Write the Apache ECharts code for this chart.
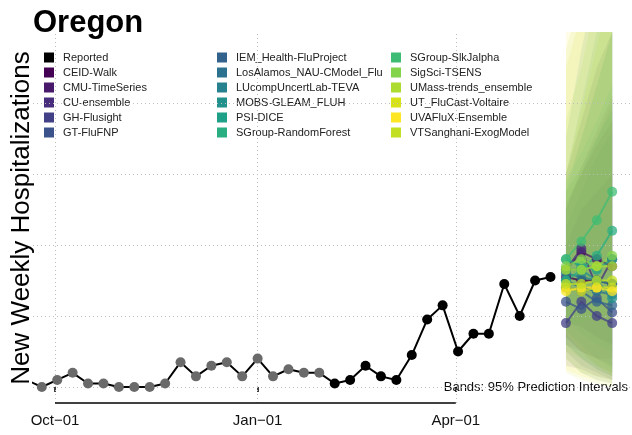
<!DOCTYPE html>
<html>
<head>
<meta charset="utf-8">
<script src="https://cdn.jsdelivr.net/npm/echarts@6/dist/echarts.min.js"></script>
<style>
html,body{margin:0;padding:0;background:#fff;}
#chart{width:632px;height:435px;}
</style>
</head>
<body>
<div id="chart"></div>
<script>
// ---------- data ----------
const reportedDates = ['2021-09-18','2021-09-25','2021-10-02','2021-10-09','2021-10-16','2021-10-23','2021-10-30','2021-11-06','2021-11-13','2021-11-20','2021-11-27','2021-12-04','2021-12-11','2021-12-18','2021-12-25','2022-01-01','2022-01-08','2022-01-15','2022-01-22','2022-01-29','2022-02-05','2022-02-12','2022-02-19','2022-02-26','2022-03-05','2022-03-12','2022-03-19','2022-03-26','2022-04-02','2022-04-09','2022-04-16','2022-04-23','2022-04-30','2022-05-07','2022-05-14'];
const reportedValues = [2,0,2,4,1,1,0,0,0,1,7,3,6,7,3,8,3,5,4,4,1,2,6,3,2,9,19,23,10,15,15,29,20,30,31];
const greyUntil = '2022-01-29';

const forecastDates = ['2022-05-21','2022-05-28','2022-06-04','2022-06-11'];
const models = ['CEID-Walk','CMU-TimeSeries','CU-ensemble','GH-Flusight','GT-FluFNP','IEM_Health-FluProject','LosAlamos_NAU-CModel_Flu','LUcompUncertLab-TEVA','MOBS-GLEAM_FLUH','PSI-DICE','SGroup-RandomForest','SGroup-SlkJalpha','SigSci-TSENS','UMass-trends_ensemble','UT_FluCast-Voltaire','UVAFluX-Ensemble','VTSanghani-ExogModel'];
const modelColors = ['#440154','#48186a','#472d7b','#424086','#3b528b','#33638d','#2c728e','#26828e','#21918c','#1fa088','#28ae80','#3fbc73','#84d44b','#addc30','#d8e219','#fde725','#c2df23'];
const medians = [
  [31,30,30,29],
  [33,38,36,34],
  [33,39,28,36],
  [18,24,20,18],
  [24,22,25,21],
  [28,27,24,23],
  [30,28,27,26],
  [32,31,30,29],
  [33,33,30,25],
  [36,34,33,36],
  [30,33,37,44],
  [36,41,47,55],
  [34,36,34,37],
  [33,33,34,34],
  [28,27,28,28],
  [27,28,28,27],
  [29,29,30,30]
];
const lower95 = [
  [14,10,8,6],[18,17,14,12],[12,10,8,8],[6,5,3,2],[10,6,4,2],[12,8,5,3],[14,10,6,4],[8,4,2,1],[16,12,8,5],
  [20,15,12,10],[12,8,5,3],[18,18,20,22],[10,8,6,4],[15,10,6,3],[4,2,1,0],[5,3,2,1],[8,4,3,2]
];
const upper95 = [
  [52,60,68,75],[50,62,72,82],[60,75,90,100],[40,50,55,60],[45,55,65,72],[50,60,70,80],[55,70,85,100],[70,95,115,130],[55,62,70,78],
  [58,66,75,85],[60,80,100,120],[58,70,85,100],[75,90,110,130],[60,78,96,115],[90,105,120,135],[100,110,120,130],[95,110,125,140]
];
const gridValues = [0,20,40,60,80];
const tickDates = ['2021-10-01','2022-01-01','2022-04-01'];
const tickLabels = ['Oct\u221201','Jan\u221201','Apr\u221201'];
const xRange = ['2021-09-21','2022-06-20'];
const yRange = [-4.5,100];

// ---------- build ----------
const ts = s => new Date(s + 'T00:00:00').getTime();
const FONT = '"Liberation Sans", Arial, Helvetica, sans-serif';
const tickTs = tickDates.map(ts);

const series = [];
models.forEach((m, i) => {
  series.push({
    name: m + ' band',
    type: 'custom',
    clip: true,
    silent: true,
    z: 1,
    data: forecastDates.map((d, k) => [ts(d), lower95[i][k], upper95[i][k]]),
    renderItem: function (params, api) {
      if (params.dataIndex !== 0) return null;
      const top = forecastDates.map((d, k) => api.coord([ts(d), upper95[i][k]]));
      const bot = forecastDates.map((d, k) => api.coord([ts(d), lower95[i][k]])).reverse();
      return {
        type: 'polygon',
        shape: { points: top.concat(bot) },
        style: { fill: modelColors[i], opacity: 0.11 }
      };
    }
  });
});
series.push({
  name: 'grid',
  type: 'line',
  data: [],
  silent: true,
  z: 0,
  markLine: {
    silent: true,
    symbol: 'none',
    label: { show: false },
    animation: false,
    lineStyle: { type: [1, 3], color: '#bdbdbd', width: 1 },
    data: gridValues.map(v => ({ yAxis: v })).concat(tickTs.map(t => ({ xAxis: t })))
  }
});
series.push({
  name: 'axisline',
  type: 'line',
  data: [],
  silent: true,
  markLine: {
    silent: true,
    symbol: 'none',
    label: { show: false },
    animation: false,
    lineStyle: { type: 'solid', color: '#000', width: 1.5 },
    data: [[{ coord: [tickTs[0], yRange[0]] }, { coord: [tickTs[tickTs.length - 1], yRange[0]] }]]
  }
});
series.push({
  name: 'Reported',
  type: 'line',
  z: 5,
  symbol: 'circle',
  symbolSize: 10,
  itemStyle: { color: '#000' },
  lineStyle: { color: '#000', width: 2 },
  data: reportedDates.map((d, k) => {
    const item = { value: [ts(d), reportedValues[k]] };
    if (ts(d) <= ts(greyUntil)) item.itemStyle = { color: '#6a6a6a' };
    return item;
  })
});
models.forEach((m, i) => {
  series.push({
    name: m,
    type: 'line',
    z: 6,
    symbol: 'circle',
    symbolSize: 10,
    itemStyle: { color: modelColors[i], opacity: 0.75 },
    lineStyle: { color: modelColors[i], width: 2, opacity: 0.75 },
    data: forecastDates.map((d, k) => [ts(d), medians[i][k]])
  });
});

const legendCols = [
  ['Reported'].concat(models.slice(0, 5)),
  models.slice(5, 11),
  models.slice(11, 17)
];
const legendLeft = [44, 217, 391];
const legends = legendCols.map((names, c) => ({
  data: names,
  orient: 'vertical',
  left: legendLeft[c],
  top: 52,
  padding: 0,
  itemGap: 4,
  itemWidth: 10,
  itemHeight: 10,
  icon: 'rect',
  selectedMode: false,
  itemStyle: { opacity: 1 },
  textStyle: { fontSize: 11, color: '#222', fontFamily: FONT, lineHeight: 10, padding: [0, 0, 0, 4] }
}));

const option = {
  animation: false,
  backgroundColor: '#fff',
  title: {
    text: 'Oregon',
    left: 33,
    top: 8,
    padding: 0,
    textStyle: { fontSize: 31, fontWeight: 'bold', color: '#000', fontFamily: FONT }
  },
  legend: legends,
  grid: { left: 33, right: 0, top: 32, bottom: 32 },
  xAxis: {
    type: 'value',
    min: ts(xRange[0]),
    max: ts(xRange[1]),
    axisLine: { show: false },
    splitLine: { show: false },
    axisTick: { show: true, customValues: tickTs, length: 5, lineStyle: { color: '#000', width: 1.5 } },
    axisLabel: {
      show: true,
      customValues: tickTs,
      margin: 10,
      fontSize: 15,
      color: '#111',
      fontFamily: FONT,
      formatter: function (v) {
        const i = tickTs.indexOf(v);
        return i >= 0 ? tickLabels[i] : '';
      }
    }
  },
  yAxis: {
    type: 'value',
    min: yRange[0],
    max: yRange[1],
    axisLine: { show: false },
    axisTick: { show: false },
    axisLabel: { show: false },
    splitLine: { show: false }
  },
  graphic: [
    {
      type: 'text',
      x: 22,
      y: 218,
      rotation: Math.PI / 2,
      style: {
        text: 'New Weekly Hospitalizations',
        font: '26px ' + FONT,
        fill: '#000',
        textAlign: 'center',
        textVerticalAlign: 'middle'
      }
    },
    {
      type: 'text',
      right: 4,
      top: 381,
      style: {
        text: 'Bands: 95% Prediction Intervals',
        font: '13px ' + FONT,
        fill: '#111'
      }
    }
  ],
  series: series
};

const chart = echarts.init(document.getElementById('chart'), null, { renderer: 'canvas' });
chart.setOption(option);
</script>
</body>
</html>
